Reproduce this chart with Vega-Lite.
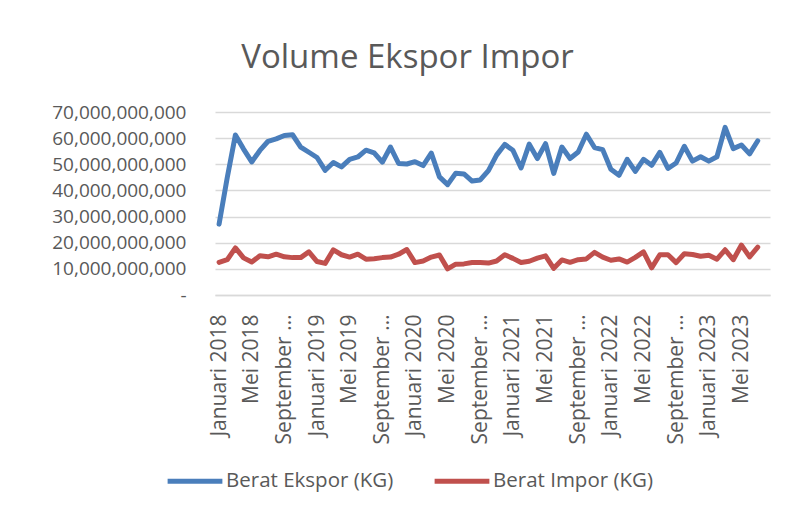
{
  "$schema": "https://vega.github.io/schema/vega-lite/v6.json",
  "width": 555,
  "height": 183,
  "autosize": {"type": "none"},
  "padding": {"left": 215, "top": 112, "right": 16, "bottom": 211},
  "background": "white",
  "title": {
    "text": "Volume Ekspor Impor",
    "font": "Open Sans",
    "fontSize": 33,
    "fontWeight": "normal",
    "color": "#595959",
    "anchor": "middle",
    "frame": "group",
    "dx": -85,
    "offset": 28
  },
  "data": {
    "values": [
      {"b": "Januari 2018", "e": 27100000000, "i": 12500000000},
      {"b": "Februari 2018", "e": 44900000000, "i": 13500000000},
      {"b": "Maret 2018", "e": 61200000000, "i": 18000000000},
      {"b": "April 2018", "e": 55800000000, "i": 14200000000},
      {"b": "Mei 2018", "e": 50900000000, "i": 12600000000},
      {"b": "Juni 2018", "e": 55300000000, "i": 15000000000},
      {"b": "Juli 2018", "e": 58800000000, "i": 14600000000},
      {"b": "Agustus 2018", "e": 59700000000, "i": 15600000000},
      {"b": "September 2018", "e": 61000000000, "i": 14600000000},
      {"b": "Oktober 2018", "e": 61300000000, "i": 14300000000},
      {"b": "November 2018", "e": 56600000000, "i": 14300000000},
      {"b": "Desember 2018", "e": 54600000000, "i": 16500000000},
      {"b": "Januari 2019", "e": 52600000000, "i": 12800000000},
      {"b": "Februari 2019", "e": 47700000000, "i": 12100000000},
      {"b": "Maret 2019", "e": 50700000000, "i": 17300000000},
      {"b": "April 2019", "e": 49000000000, "i": 15400000000},
      {"b": "Mei 2019", "e": 51900000000, "i": 14500000000},
      {"b": "Juni 2019", "e": 52800000000, "i": 15600000000},
      {"b": "Juli 2019", "e": 55400000000, "i": 13700000000},
      {"b": "Agustus 2019", "e": 54400000000, "i": 13900000000},
      {"b": "September 2019", "e": 50800000000, "i": 14300000000},
      {"b": "Oktober 2019", "e": 56600000000, "i": 14500000000},
      {"b": "November 2019", "e": 50300000000, "i": 15600000000},
      {"b": "Desember 2019", "e": 50100000000, "i": 17400000000},
      {"b": "Januari 2020", "e": 51000000000, "i": 12400000000},
      {"b": "Februari 2020", "e": 49500000000, "i": 13000000000},
      {"b": "Maret 2020", "e": 54300000000, "i": 14500000000},
      {"b": "April 2020", "e": 45200000000, "i": 15300000000},
      {"b": "Mei 2020", "e": 42200000000, "i": 10000000000},
      {"b": "Juni 2020", "e": 46600000000, "i": 11800000000},
      {"b": "Juli 2020", "e": 46300000000, "i": 11900000000},
      {"b": "Agustus 2020", "e": 43600000000, "i": 12400000000},
      {"b": "September 2020", "e": 44000000000, "i": 12400000000},
      {"b": "Oktober 2020", "e": 47600000000, "i": 12200000000},
      {"b": "November 2020", "e": 53500000000, "i": 13000000000},
      {"b": "Desember 2020", "e": 57600000000, "i": 15400000000},
      {"b": "Januari 2021", "e": 55400000000, "i": 14000000000},
      {"b": "Februari 2021", "e": 48600000000, "i": 12400000000},
      {"b": "Maret 2021", "e": 57700000000, "i": 12900000000},
      {"b": "April 2021", "e": 52200000000, "i": 14100000000},
      {"b": "Mei 2021", "e": 57900000000, "i": 15000000000},
      {"b": "Juni 2021", "e": 46500000000, "i": 10200000000},
      {"b": "Juli 2021", "e": 56600000000, "i": 13400000000},
      {"b": "Agustus 2021", "e": 52200000000, "i": 12500000000},
      {"b": "September 2021", "e": 54700000000, "i": 13500000000},
      {"b": "Oktober 2021", "e": 61500000000, "i": 13800000000},
      {"b": "November 2021", "e": 56400000000, "i": 16300000000},
      {"b": "Desember 2021", "e": 55600000000, "i": 14500000000},
      {"b": "Januari 2022", "e": 48100000000, "i": 13300000000},
      {"b": "Februari 2022", "e": 45800000000, "i": 13800000000},
      {"b": "Maret 2022", "e": 51900000000, "i": 12600000000},
      {"b": "April 2022", "e": 47300000000, "i": 14400000000},
      {"b": "Mei 2022", "e": 51900000000, "i": 16500000000},
      {"b": "Juni 2022", "e": 49600000000, "i": 10400000000},
      {"b": "Juli 2022", "e": 54600000000, "i": 15400000000},
      {"b": "Agustus 2022", "e": 48400000000, "i": 15400000000},
      {"b": "September 2022", "e": 50500000000, "i": 12400000000},
      {"b": "Oktober 2022", "e": 56900000000, "i": 15800000000},
      {"b": "November 2022", "e": 51200000000, "i": 15500000000},
      {"b": "Desember 2022", "e": 52900000000, "i": 14800000000},
      {"b": "Januari 2023", "e": 51200000000, "i": 15200000000},
      {"b": "Februari 2023", "e": 52900000000, "i": 13700000000},
      {"b": "Maret 2023", "e": 64100000000, "i": 17300000000},
      {"b": "April 2023", "e": 56000000000, "i": 13500000000},
      {"b": "Mei 2023", "e": 57400000000, "i": 19100000000},
      {"b": "Juni 2023", "e": 54000000000, "i": 14600000000},
      {"b": "Juli 2023", "e": 59000000000, "i": 18300000000},
      {"b": "Agustus 2023"}
    ]
  },
  "transform": [
    {"fold": ["e", "i"], "as": ["k", "berat"]},
    {"lookup": "k", "from": {"data": {"values": [{"k": "e", "seri": "Berat Ekspor (KG)"}, {"k": "i", "seri": "Berat Impor (KG)"}]}, "key": "k", "fields": ["seri"]}}
  ],
  "mark": {"type": "line", "strokeWidth": 5, "strokeCap": "round", "strokeJoin": "round", "invalid": "break-paths-show-domains"},
  "encoding": {
    "x": {
      "field": "b",
      "type": "nominal",
      "sort": null,
      "scale": {"paddingInner": 0, "paddingOuter": 0.5},
      "axis": {
        "title": null,
        "values": ["Januari 2018", "Mei 2018", "September 2018", "Januari 2019", "Mei 2019", "September 2019", "Januari 2020", "Mei 2020", "September 2020", "Januari 2021", "Mei 2021", "September 2021", "Januari 2022", "Mei 2022", "September 2022", "Januari 2023", "Mei 2023"],
        "labelAngle": -90,
        "labelAlign": "right",
        "labelBaseline": "middle",
        "labelFont": "Open Sans",
        "labelFontSize": 21,
        "labelColor": "#595959",
        "labelPadding": 19,
        "labelLimit": 134,
        "labelOverlap": false,
        "ticks": false,
        "tickSize": 0,
        "domain": true,
        "domainColor": "#d9d9d9",
        "domainWidth": 1.3,
        "grid": false
      }
    },
    "y": {
      "field": "berat",
      "type": "quantitative",
      "scale": {"domain": [0, 70000000000], "nice": false, "zero": true},
      "axis": {
        "title": null,
        "values": [0, 10000000000, 20000000000, 30000000000, 40000000000, 50000000000, 60000000000, 70000000000],
        "labelExpr": "datum.value == 0 ? '-' : format(datum.value, ',')",
        "labelFont": "Open Sans",
        "labelFontSize": 19,
        "labelColor": "#595959",
        "labelPadding": 29,
        "ticks": false,
        "tickSize": 0,
        "domain": false,
        "grid": true,
        "gridColor": "#d9d9d9",
        "gridWidth": 1.3
      }
    },
    "color": {
      "field": "seri",
      "type": "nominal",
      "scale": {"domain": ["Berat Ekspor (KG)", "Berat Impor (KG)"], "range": ["#4a7ebb", "#c0504d"]},
      "legend": {
        "title": null,
        "orient": "none",
        "direction": "horizontal",
        "legendX": -50,
        "legendY": 339,
        "symbolType": "stroke",
        "symbolSize": 3000,
        "symbolStrokeWidth": 5,
        "labelFont": "Open Sans",
        "labelFontSize": 20.5,
        "labelColor": "#595959",
        "labelOffset": 1,
        "columnPadding": 30,
        "labelLimit": 300
      }
    }
  },
  "config": {
    "view": {"stroke": null}
  }
}
